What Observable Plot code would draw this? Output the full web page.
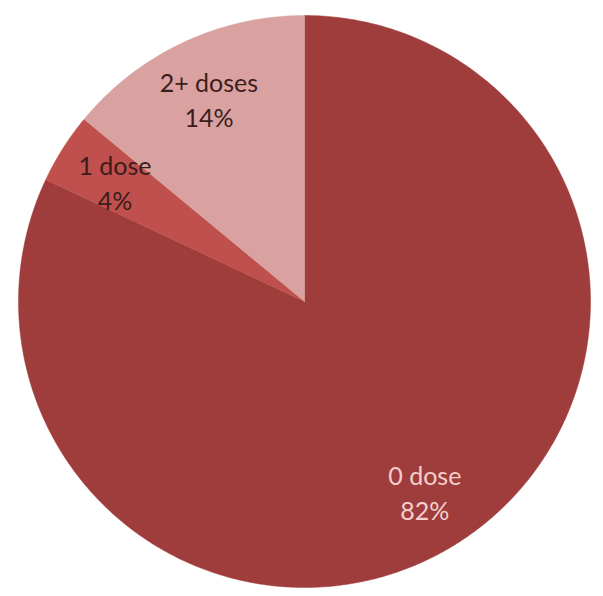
<!DOCTYPE html>
<html>
<head>
<meta charset="utf-8">
<script src="https://cdn.jsdelivr.net/npm/d3@7"></script>
<script src="https://cdn.jsdelivr.net/npm/@observablehq/plot@0.6"></script>
<style>
  html, body { margin: 0; padding: 0; background: #fff; }
  #chart svg { display: block; }
</style>
</head>
<body>
<div id="chart"></div>
<script>
// Data
const categories = ["0 dose", "1 dose", "2+ doses"];
const values = [82, 4, 14];
const percentLabels = ["82%", "4%", "14%"];
const sliceColors = ["#9e3d3b", "#c0504d", "#d9a1a0"];
const labelColors = ["#f3cfcd", "#3b1d1d", "#3b1d1d"];

// Build slice polygons from pie angles (clockwise from 12 o'clock)
const pie = d3.pie().sort(null).value(d => d.value);
const arcs = pie(categories.map((c, i) => ({category: c, value: values[i], pct: percentLabels[i]})));

const polys = [];
for (const a of arcs) {
  const c = a.data.category;
  polys.push({category: c, x: 0, y: 0});
  const n = Math.max(8, Math.ceil((a.endAngle - a.startAngle) / 0.01));
  for (let k = 0; k <= n; k++) {
    const t = a.startAngle + (a.endAngle - a.startAngle) * k / n;
    polys.push({category: c, x: Math.sin(t), y: Math.cos(t)});
  }
  polys.push({category: c, x: 0, y: 0});
}

const labelR = 0.785;
const labels = arcs.map((a, i) => {
  const m = (a.startAngle + a.endAngle) / 2;
  return {category: a.data.category, text: a.data.category + "\n" + a.data.pct,
          x: labelR * Math.sin(m), y: labelR * Math.cos(m), color: labelColors[i]};
});

const W = 603, H = 596, cx = 304, cy = 301, R = 286;

const chart = Plot.plot({
  width: W,
  height: H,
  margin: 0,
  x: {domain: [-cx / R, (W - cx) / R], axis: null},
  y: {domain: [-(H - cy) / R, cy / R], axis: null},
  color: {domain: categories, range: sliceColors},
  style: {background: "#fff"},
  marks: [
    Plot.line(polys, {x: "x", y: "y", z: "category", fill: "category", stroke: "category", strokeWidth: 0.5, curve: "linear-closed"}),
    Plot.text(labels, {x: "x", y: "y", text: "text", fill: "color", fontSize: 25, lineHeight: 1.4, fontFamily: "Lato, 'Open Sans', sans-serif"})
  ]
});

document.getElementById("chart").appendChild(chart);
</script>
</body>
</html>
